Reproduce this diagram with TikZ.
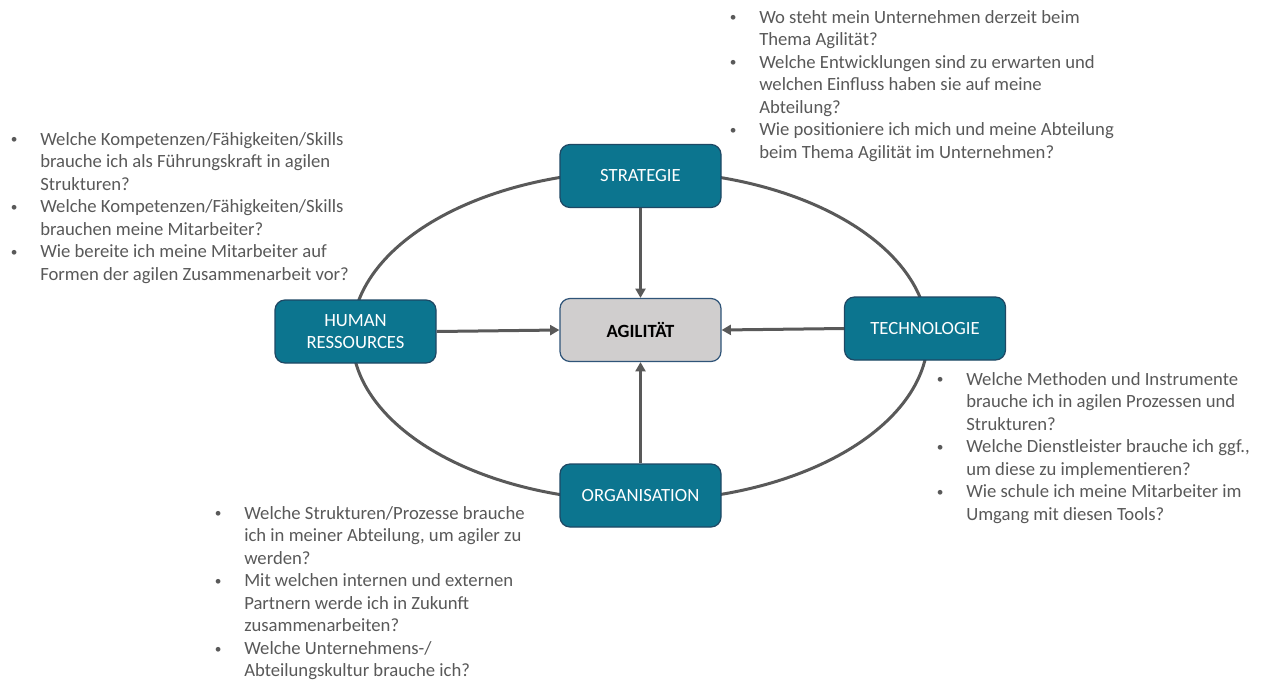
\documentclass[tikz,border=0pt]{standalone}
\usepackage{fontspec}
\setmainfont{Carlito}
\usetikzlibrary{arrows.meta}
\definecolor{tealfill}{RGB}{12,117,143}
\definecolor{tealborder}{RGB}{30,72,100}
\definecolor{corefill}{RGB}{208,206,206}
\definecolor{coreborder}{RGB}{47,84,120}
\definecolor{linegray}{RGB}{89,89,89}
\definecolor{txtgray}{RGB}{89,89,89}
\newcommand{\bl}{\llap{\makebox[22pt][l]{\raisebox{1pt}{\fontsize{10}{10}\selectfont•}}}}
\begin{document}
\begin{tikzpicture}[x=0.75pt,y=-0.75pt,
  box/.style={draw=tealborder, line width=0.9pt, fill=tealfill, rounded corners=7.5pt,
    minimum width=120.75pt, minimum height=47.25pt, text=white, inner sep=0pt,
    font=\fontsize{14}{17}\selectfont, align=center},
  core/.style={box, fill=corefill, draw=coreborder, text=black, font=\fontsize{14}{17}\selectfont\bfseries},
  ring/.style={draw=linegray, line width=2.25pt},
  arr/.style={draw=linegray, line width=2.25pt, -{Triangle[length=7pt,width=7.5pt]}},
  qtext/.style={anchor=north west, inner sep=0pt, align=left, text=txtgray,
    font=\fontsize{14}{16.9}\selectfont}
]
\useasboundingbox (0,0) rectangle (1263,682);
\fill[white] (0,0) rectangle (1263,682);

\draw[ring] (640,336) ellipse [x radius=216pt, y radius=123.75pt];

\node[box]  (strat) at (640.5,176) {STRATEGIE};
\node[box]  (hr)    at (355.5,331.5) {HUMAN\\RESSOURCES};
\node[core] (agil)  at (640.5,330) {AGILITÄT};
\node[box]  (tech)  at (925,328.5) {TECHNOLOGIE};
\node[box]  (org)   at (640.5,495.5) {ORGANISATION};

\draw[arr] (strat.south) -- (agil.north);
\draw[arr] (org.north) -- (agil.south);
\draw[arr] (hr.east) -- (agil.west);
\draw[arr] (tech.west) -- (agil.east);

\node[qtext] (qhr) at (40,132) {%
\bl Welche Kompetenzen/Fähigkeiten/Skills\\
brauche ich als Führungskraft in agilen\\
Strukturen?\\
\bl Welche Kompetenzen/Fähigkeiten/Skills\\
brauchen meine Mitarbeiter?\\
\bl Wie bereite ich meine Mitarbeiter auf\\
Formen der agilen Zusammenarbeit vor?};

\node[qtext] (qstrat) at (759,10) {%
\bl Wo steht mein Unternehmen derzeit beim\\
Thema Agilität?\\
\bl Welche Entwicklungen sind zu erwarten und\\
welchen Einfluss haben sie auf meine\\
Abteilung?\\
\bl Wie positioniere ich mich und meine Abteilung\\
beim Thema Agilität im Unternehmen?};

\node[qtext] (qtech) at (966,372) {%
\bl Welche Methoden und Instrumente\\
brauche ich in agilen Prozessen und\\
Strukturen?\\
\bl Welche Dienstleister brauche ich ggf.,\\
um diese zu implementieren?\\
\bl Wie schule ich meine Mitarbeiter im\\
Umgang mit diesen Tools?};

\node[qtext] (qorg) at (244,506) {%
\bl Welche Strukturen/Prozesse brauche\\
ich in meiner Abteilung, um agiler zu\\
werden?\\
\bl Mit welchen internen und externen\\
Partnern werde ich in Zukunft\\
zusammenarbeiten?\\
\bl Welche Unternehmens-/\\
Abteilungskultur brauche ich?};
\end{tikzpicture}
\end{document}
